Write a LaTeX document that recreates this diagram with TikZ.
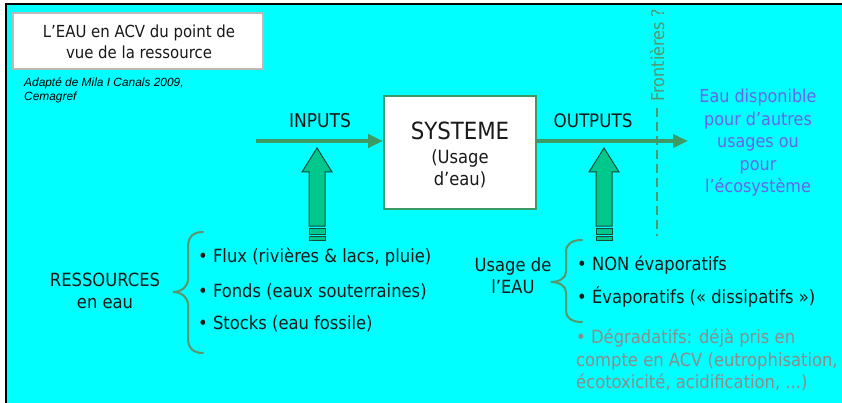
\documentclass[tikz,border=0pt]{standalone}
\usepackage{fontspec}
\setmainfont{DejaVu Sans Condensed}
\newfontfamily\creditfont{Liberation Sans}
\usetikzlibrary{arrows.meta}
\definecolor{bgcyan}{RGB}{0,255,255}
\definecolor{flowgreen}{RGB}{60,155,100}
\definecolor{bracegreen}{RGB}{90,150,105}
\definecolor{blockfill}{RGB}{0,200,140}
\definecolor{blockline}{RGB}{20,75,55}
\definecolor{frontgreen}{RGB}{85,150,105}
\definecolor{eaublue}{RGB}{105,100,235}
\definecolor{greytext}{RGB}{140,140,140}
\definecolor{titleframe}{RGB}{185,185,185}
\tikzset{
  txt/.style={font=\fontsize{18.2}{22}\selectfont, inner sep=0pt, align=center, text=black!90},
  listtxt/.style={font=\fontsize{18.2}{22}\selectfont, inner sep=0pt, anchor=west, text=black!90},
  flow/.style={draw=flowgreen, line width=4pt, -{Triangle[length=15pt,width=13pt]}},
  bracestyle/.style={draw=bracegreen, line width=2pt, line cap=round},
  blockarrow/.style={fill=blockfill, draw=blockline, line width=1pt},
}
\begin{document}
\begin{tikzpicture}[x=1pt,y=-1pt]
\useasboundingbox (0,0) rectangle (842,403);
\fill[white] (0,0) rectangle (842,403);
\fill[bgcyan] (5,4) rectangle (842,403);
\draw[black, line width=2pt] (5.5,403) -- (5.5,4.5) -- (842,4.5);

% title
\node[draw=titleframe, line width=2.5pt, fill=white, minimum width=250pt, minimum height=56pt, inner sep=0pt] (titlebox) at (138,41) {};
\node[txt, font=\fontsize{16.6}{21}\selectfont] (title) at (139,42) {L’EAU en ACV du point de\\vue de la ressource};
\node[inner sep=0pt, anchor=north west, align=left, font=\creditfont\itshape\fontsize{11.9}{14}\selectfont] (credit) at (24,78) {Adapté de Mila I Canals 2009,\\Cemagref};

% system
\node[draw=flowgreen, line width=2pt, fill=white, minimum width=152pt, minimum height=113pt, inner sep=0pt] (sys) at (460,152.5) {};
\node[txt, font=\fontsize{23.7}{26}\selectfont] (systitle) at (460,131) {SYSTEME};
\node[txt] (sysusage) at (460,169) {(Usage\\d’eau)};

\coordinate (instart) at (256,141);
\coordinate (outend) at (688,141);
\node[txt, font=\fontsize{19}{22}\selectfont] (inputs) at (320,121) {INPUTS};
\node[txt, font=\fontsize{18.6}{22}\selectfont] (outputs) at (593,121) {OUTPUTS};

% frontier
\draw[frontgreen, line width=2.5pt, dash pattern=on 9pt off 5pt] (657,108) coordinate (fronttop) -- (657,236) coordinate (frontbot);
\node[txt, text=frontgreen, font=\fontsize{17.8}{22}\selectfont, rotate=90] (front) at (657,55) {Frontières ?};

\draw[flow] (instart) -- (instart -| sys.west);
\draw[flow] (sys.east |- outend) -- (outend);

\node[txt, text=eaublue, font=\fontsize{17.8}{22.5}\selectfont] (eau) at (758,143) {Eau disponible\\pour d’autres\\usages ou\\pour\\l’écosystème};

% block arrows
\foreach \cx/\nm in {317/inarrow, 604/outarrow}{
  \draw[blockarrow] (\cx,148) -- (\cx+15,172) -- (\cx+8,172) -- (\cx+8,226) -- (\cx-8,226) -- (\cx-8,172) -- (\cx-15,172) -- cycle;
  \draw[blockarrow] (\cx-8,228.5) rectangle (\cx+8,234.5);
  \draw[blockarrow] (\cx-8,236.5) rectangle (\cx+8,240);
}

% resources
\node[txt] (ress) at (105,291) {RESSOURCES\\en eau};
\draw[bracestyle] (203,232) .. controls (193,232) and (188,237) .. (188,247) -- (188,279) .. controls (188,287) and (181,292) .. (173,292) .. controls (181,292) and (188,297) .. (188,305) -- (188,338) .. controls (188,348) and (193,353) .. (203,353);
\node[listtxt] (flux) at (198,257) {• Flux (rivières \& lacs, pluie)};
\node[listtxt] (fonds) at (198,292) {• Fonds (eaux souterraines)};
\node[listtxt] (stocks) at (198,324) {• Stocks (eau fossile)};

% usage
\node[txt] (usage) at (513,276) {Usage de\\l’EAU};
\draw[bracestyle] (582,240) .. controls (572,240) and (566,244) .. (566,252) -- (566,272) .. controls (566,278) and (559,282) .. (551,282) .. controls (559,282) and (566,286) .. (566,292) -- (566,311) .. controls (566,318) and (572,322) .. (582,322);
\node[listtxt] (nonevap) at (577,265) {• NON évaporatifs};
\node[listtxt] (evap) at (577,297) {• Évaporatifs (« dissipatifs »)};
\node[inner sep=0pt, anchor=north west, align=left, text=greytext, font=\fontsize{18.2}{22.5}\selectfont] (degrad) at (576,329) {• Dégradatifs: déjà pris en\\compte en ACV (eutrophisation,\\écotoxicité, acidification, ...)};
\end{tikzpicture}
\end{document}
